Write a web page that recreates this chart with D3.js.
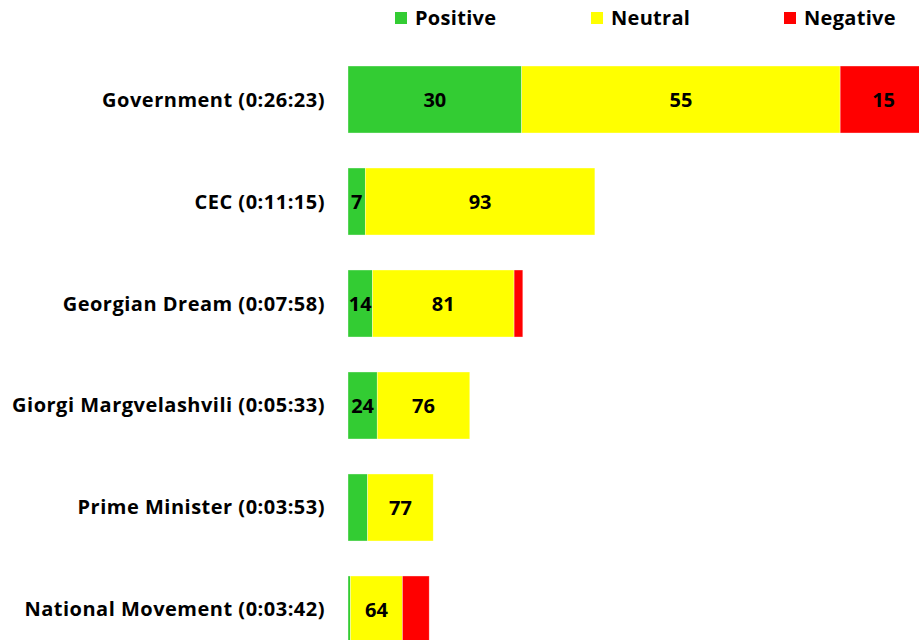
<!DOCTYPE html>
<html>
<head>
<meta charset="utf-8">
<script src="https://cdn.jsdelivr.net/npm/d3@7"></script>
<style>
  body { margin: 0; background: #fff; }
  svg { font-family: "Open Sans", sans-serif; font-weight: bold; }
</style>
</head>
<body>
<div id="chart"></div>
<script>
// categories with their airtime (h:mm:ss)
const categories = ['Government', 'CEC', 'Georgian Dream', 'Giorgi Margvelashvili', 'Prime Minister', 'National Movement'];
const durations = ['0:26:23', '0:11:15', '0:07:58', '0:05:33', '0:03:53', '0:03:42'];

// tone shares in percent
const positive = [30, 7, 14, 24, 23, 3];
const neutral = [55, 93, 81, 76, 77, 64];
const negative = [15, 0, 5, 0, 0, 33];

// which segment values are printed on the bars (positive, neutral, negative)
const showLabel = [
  [1, 1, 1],
  [1, 1, 0],
  [1, 1, 0],
  [1, 1, 0],
  [0, 1, 0],
  [0, 1, 0]
];

const seriesNames = ['Positive', 'Neutral', 'Negative'];
const colors = ['#33cc33', '#ffff00', '#ff0000'];

const width = 919;
const height = 640;

const toSeconds = s => s.split(':').reduce((a, v) => a * 60 + (+v), 0);

const rows = categories.map((c, i) => ({
  name: c,
  label: c + ' (' + durations[i] + ')',
  secs: toSeconds(durations[i]),
  values: [positive[i], neutral[i], negative[i]],
  show: showLabel[i]
}));

const svg = d3.select('#chart')
  .append('svg')
  .attr('width', width)
  .attr('height', height);

// bar length is the airtime, split by tone share (longest bar runs past the edge)
const x = d3.scaleLinear()
  .domain([0, d3.max(rows, d => d.secs)])
  .range([348, 927]);

const y = d3.scaleBand()
  .domain(categories)
  .range([66, 643])
  .paddingInner(0.343)
  .paddingOuter(0);

// category labels
svg.append('g')
  .selectAll('text')
  .data(rows)
  .enter()
  .append('text')
  .attr('x', 325)
  .attr('y', d => y(d.name) + y.bandwidth() / 2)
  .attr('dy', '0.35em')
  .attr('text-anchor', 'end')
  .attr('font-size', 20)
  .attr('letter-spacing', 0.5)
  .attr('fill', '#000')
  .text(d => d.label);

// stacked segments
rows.forEach(r => {
  const len = x(r.secs) - x(0);
  let acc = 0;
  const segs = r.values.map((v, k) => {
    const s = { v: v, k: k, x0: x(0) + len * acc / 100, w: len * v / 100, show: r.show[k] };
    acc += v;
    return s;
  });

  const g = svg.append('g');

  g.selectAll('rect')
    .data(segs.filter(s => s.v > 0))
    .enter()
    .append('rect')
    .attr('x', s => s.x0)
    .attr('y', y(r.name))
    .attr('width', s => s.w)
    .attr('height', y.bandwidth())
    .attr('fill', s => colors[s.k])
    .attr('stroke', '#fff')
    .attr('stroke-opacity', 0.6)
    .attr('stroke-width', 0.6);

  g.selectAll('text')
    .data(segs.filter(s => s.show))
    .enter()
    .append('text')
    .attr('x', s => s.x0 + s.w / 2)
    .attr('y', y(r.name) + y.bandwidth() / 2)
    .attr('dy', '0.36em')
    .attr('text-anchor', 'middle')
    .attr('font-size', 20)
    .attr('fill', '#000')
    .text(s => s.v);
});

// legend
const legendX = [395, 591, 784];
const legend = svg.append('g')
  .selectAll('g')
  .data(seriesNames)
  .enter()
  .append('g')
  .attr('transform', (d, i) => 'translate(' + legendX[i] + ',0)');

legend.append('rect')
  .attr('x', 0)
  .attr('y', 12)
  .attr('width', 12)
  .attr('height', 12)
  .attr('fill', (d, i) => colors[i]);

legend.append('text')
  .attr('x', 20)
  .attr('y', 18)
  .attr('dy', '0.35em')
  .attr('font-size', 20)
  .attr('letter-spacing', 0.3)
  .attr('fill', '#000')
  .text(d => d);
</script>
</body>
</html>
